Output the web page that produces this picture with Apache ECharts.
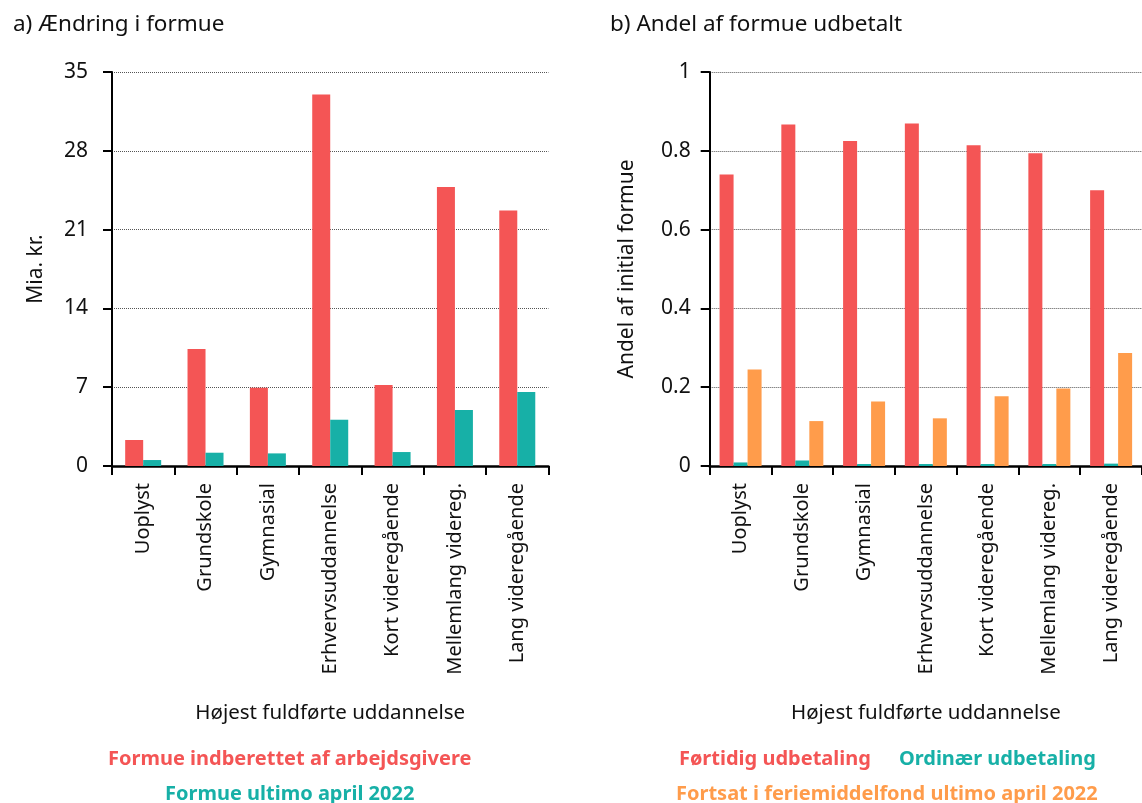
<!DOCTYPE html>
<html>
<head>
<meta charset="utf-8">
<script src="https://cdn.jsdelivr.net/npm/echarts@6/dist/echarts.min.js"></script>
<style>
html,body{margin:0;padding:0;background:#fff;}
#chart{width:1142px;height:803px;}
</style>
</head>
<body>
<div id="chart"></div>
<script>
// ---- Data ----
const categories = ['Uoplyst', 'Grundskole', 'Gymnasial', 'Erhvervsuddannelse', 'Kort videregående', 'Mellemlang videreg.', 'Lang videregående'];

// Panel a) Ændring i formue (Mia. kr.)
const formueIndberettet = [2.31, 10.39, 6.96, 33.0, 7.19, 24.78, 22.7];
const formueUltimo = [0.53, 1.18, 1.12, 4.11, 1.24, 4.97, 6.57];
const leftTicks = [0, 7, 14, 21, 28, 35];

// Panel b) Andel af formue udbetalt
const fortidig = [0.740, 0.867, 0.825, 0.869, 0.814, 0.794, 0.700];
const ordinaer = [0.009, 0.014, 0.005, 0.005, 0.005, 0.005, 0.006];
const fortsat = [0.245, 0.114, 0.164, 0.121, 0.177, 0.197, 0.287];
const rightTicks = [0, 0.2, 0.4, 0.6, 0.8, 1];

// ---- Styling ----
const FONT = 'Noto Sans';
const RED = '#f45555';
const TEAL = '#17b0a7';
const ORANGE = '#ff9c4b';

const names = {
  a1: 'Formue indberettet af arbejdsgivere',
  a2: 'Formue ultimo april 2022',
  b1: 'Førtidig udbetaling',
  b2: 'Ordinær udbetaling',
  b3: 'Fortsat i feriemiddelfond ultimo april 2022'
};

const LEG_FS = 20;
const cvs = document.createElement('canvas').getContext('2d');
cvs.font = 'bold ' + LEG_FS + 'px "' + FONT + '"';
function tw(s) { return cvs.measureText(s).width; }

function legendAt(items, colors, centerX, top, gap) {
  let total = 0;
  items.forEach((s, i) => { total += tw(s) + 5 + (i > 0 ? gap : 0); });
  return {
    left: Math.round(centerX - total / 2),
    top: top,
    icon: 'none',
    itemWidth: 0,
    itemHeight: 10,
    itemGap: gap,
    selectedMode: false,
    padding: 0,
    textStyle: { fontFamily: FONT, fontSize: LEG_FS, fontWeight: 'bold' },
    data: items.map((s, i) => ({ name: s, textStyle: { color: colors[i] } }))
  };
}

const gridH = 394, catW = 62.35;
const leftGridX = 112, rightGridX = 709.7;

function yAxisDef(gridIndex, ticks, name, nameGap, labelMargin) {
  return {
    type: 'value', gridIndex: gridIndex,
    min: ticks[0], max: ticks[ticks.length - 1],
    interval: ticks[1] - ticks[0],
    name: name, nameLocation: 'middle', nameGap: nameGap, nameRotate: 90,
    nameTextStyle: { fontFamily: FONT, fontSize: 21, color: '#111' },
    axisLine: { show: true, lineStyle: { color: '#000', width: 2 } },
    axisTick: { show: true, length: 9, lineStyle: { color: '#000', width: 2 } },
    axisLabel: { fontFamily: FONT, fontSize: 21, color: '#111', margin: labelMargin },
    splitLine: { show: true, lineStyle: { color: '#555', type: [1, 1], width: 1 } }
  };
}

function xAxisDef(gridIndex) {
  return {
    type: 'category', gridIndex: gridIndex, data: categories,
    name: 'Højest fuldførte uddannelse', nameLocation: 'middle', nameGap: 237,
    nameTextStyle: { fontFamily: FONT, fontSize: 20.5, color: '#111' },
    axisLine: { show: true, lineStyle: { color: '#000', width: 2.5 } },
    axisTick: { show: true, alignWithLabel: false, length: 9, lineStyle: { color: '#000', width: 2 } },
    axisLabel: { rotate: 90, fontFamily: FONT, fontSize: 20, color: '#111', margin: 17, interval: 0 },
    splitLine: { show: false }
  };
}

const option = {
  backgroundColor: '#fff',
  animation: false,
  title: [
    { text: 'a) Ændring i formue', left: 8, top: 8, textStyle: { fontFamily: FONT, fontSize: 22.5, fontWeight: 'normal', color: '#111' } },
    { text: 'b) Andel af formue udbetalt', left: 605, top: 8, textStyle: { fontFamily: FONT, fontSize: 22.5, fontWeight: 'normal', color: '#111' } }
  ],
  legend: [
    legendAt([names.a1], [RED], 287, 749, 0),
    legendAt([names.a2], [TEAL], 287, 784, 0),
    legendAt([names.b1, names.b2], [RED, TEAL], 884.5, 749, 23),
    legendAt([names.b3], [ORANGE], 884.5, 784, 0)
  ],
  grid: [
    { left: leftGridX, top: 72, width: catW * 7, height: gridH, containLabel: false },
    { left: rightGridX, top: 72, width: catW * 7, height: gridH, containLabel: false }
  ],
  xAxis: [xAxisDef(0), xAxisDef(1)],
  yAxis: [
    yAxisDef(0, leftTicks, 'Mia. kr.', 65, 24),
    yAxisDef(1, rightTicks, 'Andel af initial formue', 72, 19)
  ],
  series: [
    { name: names.a1, type: 'bar', xAxisIndex: 0, yAxisIndex: 0, data: formueIndberettet, barWidth: 18, barGap: '0%', itemStyle: { color: RED } },
    { name: names.a2, type: 'bar', xAxisIndex: 0, yAxisIndex: 0, data: formueUltimo, barWidth: 18, barGap: '0%', itemStyle: { color: TEAL } },
    { name: names.b1, type: 'bar', xAxisIndex: 1, yAxisIndex: 1, data: fortidig, barWidth: 14, barGap: '0%', itemStyle: { color: RED } },
    { name: names.b2, type: 'bar', xAxisIndex: 1, yAxisIndex: 1, data: ordinaer, barWidth: 14, barGap: '0%', itemStyle: { color: TEAL } },
    { name: names.b3, type: 'bar', xAxisIndex: 1, yAxisIndex: 1, data: fortsat, barWidth: 14, barGap: '0%', itemStyle: { color: ORANGE } }
  ]
};

const chart = echarts.init(document.getElementById('chart'), null, { renderer: 'canvas' });
chart.setOption(option);
</script>
</body>
</html>
